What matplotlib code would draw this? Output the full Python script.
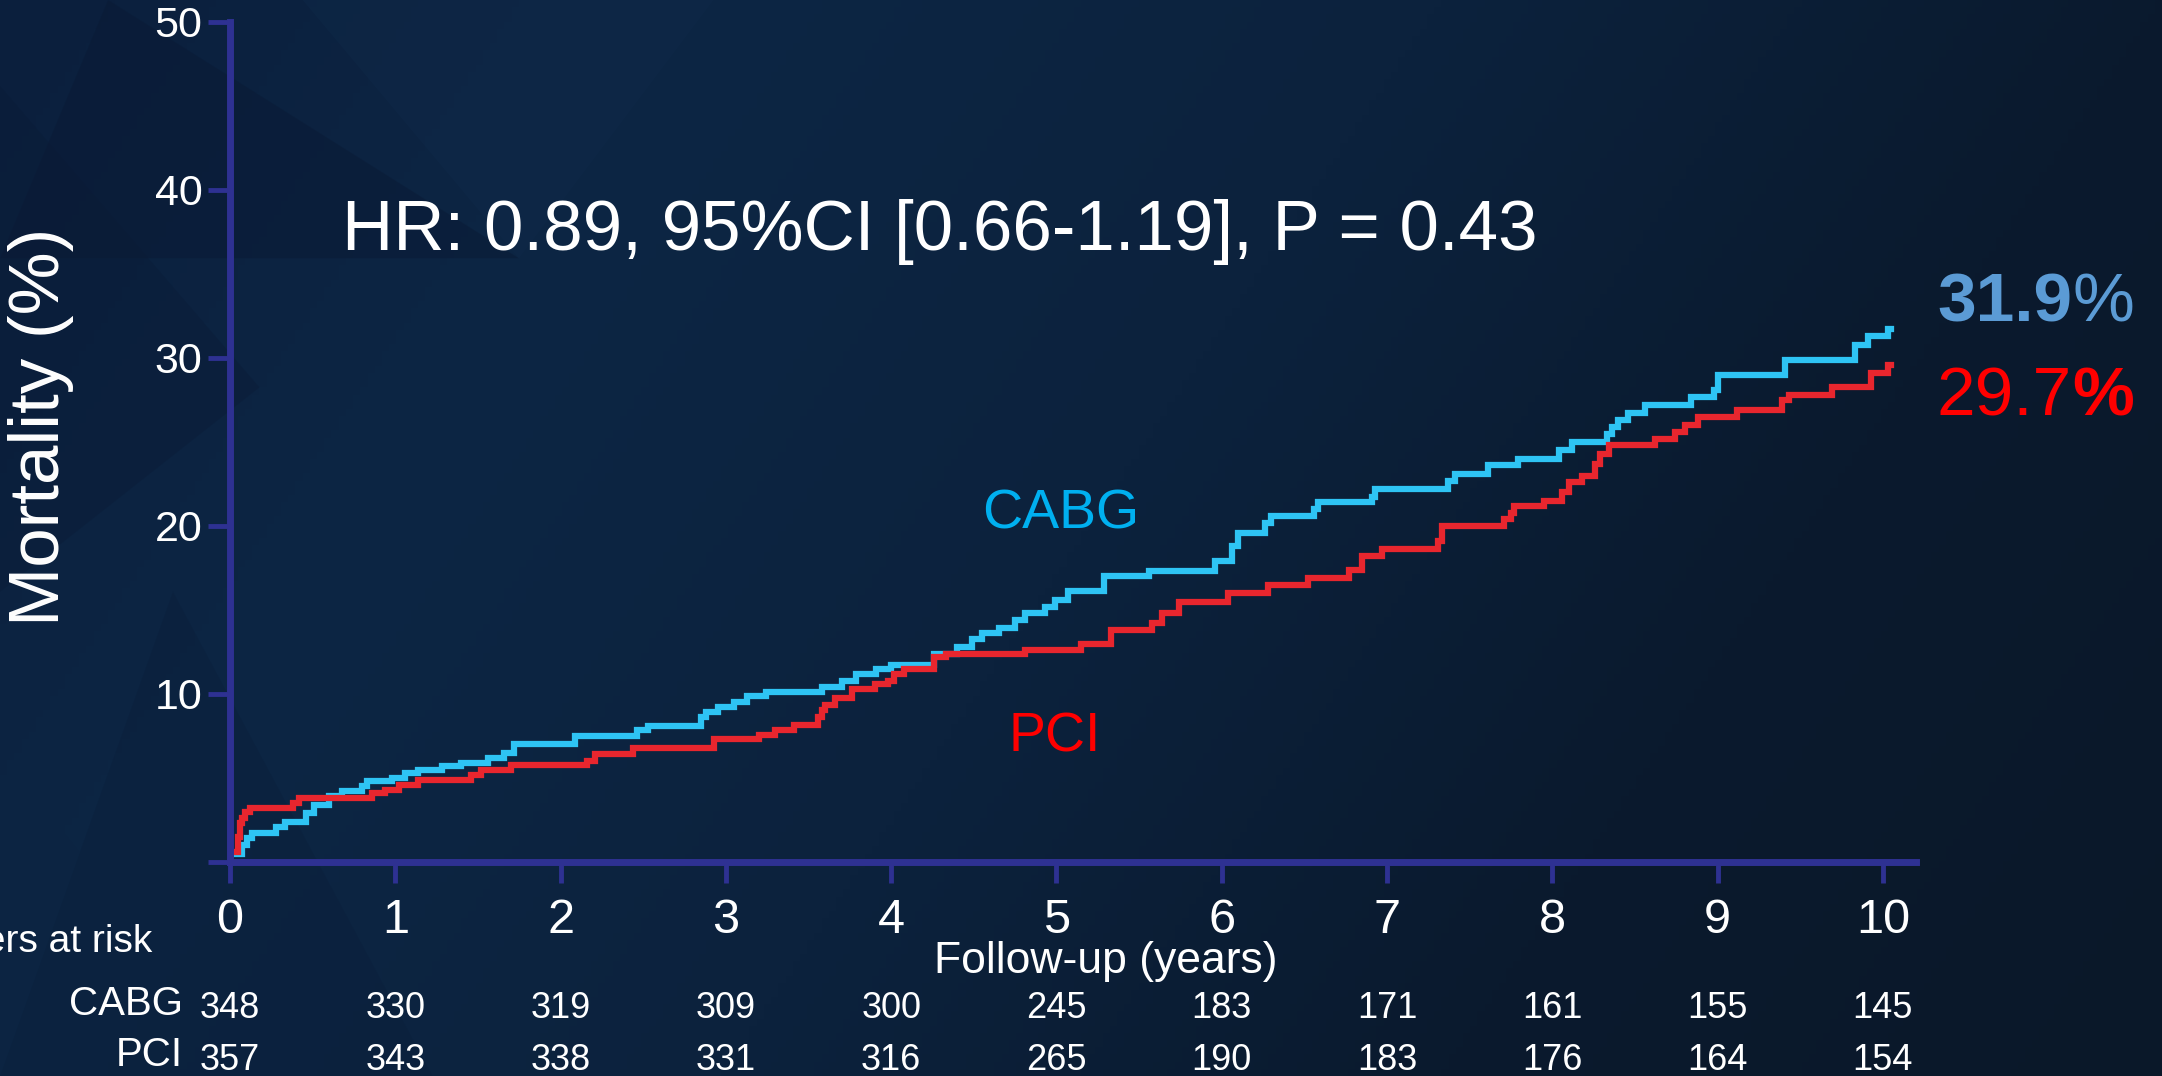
import numpy as np
import matplotlib.pyplot as plt
from matplotlib.colors import LinearSegmentedColormap
from matplotlib.patches import Polygon

# Kaplan-Meier steps (years, mortality %)
cabg_t = [0.03, 0.07, 0.10, 0.13, 0.28, 0.33, 0.46, 0.51, 0.60, 0.68, 0.80, 0.83, 0.98,
          1.06, 1.14, 1.28, 1.40, 1.56, 1.66, 1.72, 2.09, 2.46, 2.53, 2.85, 2.88, 2.95,
          3.05, 3.13, 3.24, 3.58, 3.70, 3.79, 3.91, 4.00, 4.26, 4.40, 4.49, 4.55, 4.65,
          4.75, 4.81, 4.93, 4.99, 5.07, 5.29, 5.56, 5.96, 6.06, 6.10, 6.26, 6.30, 6.56,
          6.58, 6.91, 6.93, 7.37, 7.41, 7.61, 7.79, 8.04, 8.12, 8.33, 8.36, 8.40, 8.46,
          8.56, 8.84, 8.98, 9.00, 9.41, 9.83, 9.91, 10.03, 10.05]
cabg_v = [0.5, 1.0, 1.4, 1.7, 2.1, 2.4, 2.9, 3.4, 3.9, 4.2, 4.5, 4.8, 5.0,
          5.3, 5.5, 5.7, 5.9, 6.2, 6.5, 7.0, 7.5, 7.85, 8.1, 8.6, 8.95, 9.2,
          9.5, 9.85, 10.1, 10.4, 10.8, 11.2, 11.5, 11.75, 12.4, 12.8, 13.3, 13.6, 13.9,
          14.4, 14.8, 15.2, 15.6, 16.1, 17.0, 17.3, 17.9, 18.8, 19.6, 20.2, 20.6, 21.0,
          21.4, 21.7, 22.2, 22.7, 23.1, 23.6, 24.0, 24.5, 25.0, 25.5, 25.9, 26.3, 26.7,
          27.2, 27.7, 28.1, 29.0, 29.9, 30.8, 31.3, 31.7, 31.7]

pci_t = [0.04, 0.05, 0.06, 0.07, 0.09, 0.12, 0.38, 0.42, 0.86, 0.94, 1.02, 1.14, 1.46,
         1.52, 1.70, 2.16, 2.21, 2.44, 2.93, 3.20, 3.30, 3.41, 3.56, 3.58, 3.60, 3.66,
         3.76, 3.90, 3.98, 4.02, 4.08, 4.26, 4.33, 4.81, 5.15, 5.33, 5.58, 5.64, 5.74,
         6.04, 6.28, 6.52, 6.77, 6.85, 6.97, 7.31, 7.33, 7.71, 7.75, 7.77, 7.95, 8.06,
         8.10, 8.18, 8.26, 8.29, 8.34, 8.62, 8.74, 8.80, 8.88, 9.12, 9.39, 9.43, 9.69,
         9.93, 10.03, 10.05]
pci_v = [0.6, 1.5, 2.3, 2.6, 3.0, 3.2, 3.5, 3.8, 4.1, 4.3, 4.6, 4.9, 5.2,
         5.5, 5.75, 6.0, 6.4, 6.8, 7.3, 7.55, 7.85, 8.15, 8.6, 9.05, 9.35, 9.75,
         10.3, 10.6, 10.8, 11.2, 11.5, 12.2, 12.4, 12.6, 13.0, 13.8, 14.2, 14.8, 15.5,
         16.0, 16.5, 16.9, 17.4, 18.2, 18.6, 19.1, 20.0, 20.4, 20.8, 21.2, 21.5, 22.0,
         22.6, 23.0, 23.7, 24.3, 24.8, 25.2, 25.6, 26.0, 26.5, 26.9, 27.5, 27.8, 28.3,
         29.1, 29.6, 29.6]

years = list(range(11))
yticks = [10, 20, 30, 40, 50]
risk_cabg = [348, 330, 319, 309, 300, 245, 183, 171, 161, 155, 145]
risk_pci = [357, 343, 338, 331, 316, 265, 190, 183, 176, 164, 154]

axis_col = '#2e3192'
cabg_col = '#2ec4f4'
pci_col = '#e8262e'
plt.rcParams['font.family'] = ['Liberation Sans', 'DejaVu Sans']

fig = plt.figure(figsize=(21.62, 10.76), dpi=100)

# dark navy slide background
bg = fig.add_axes([0, 0, 1, 1], zorder=-2)
cmap = LinearSegmentedColormap.from_list('bg', ['#0b1f3d', '#0d2644', '#0c223d', '#0a1a2e', '#0a1829'])
gx = np.linspace(0, 1, 300)
gy = np.linspace(0, 1, 150)
X, Y = np.meshgrid(gx, gy)
bg.imshow(0.75 * X + 0.25 * Y, cmap=cmap, extent=[0, 1, 0, 1], aspect='auto', origin='upper')
for pts, c, a in [([(0.05, 1), (0.24, 0.76), (0.0, 0.76)], '#0a1a35', 0.5),
                  ([(0.14, 1), (0.33, 1), (0.24, 0.76)], '#0f2a4a', 0.4),
                  ([(0.0, 0.92), (0.12, 0.64), (0.0, 0.45)], '#0a1b36', 0.4),
                  ([(0.08, 0.45), (0.2, 0.0), (0.0, 0.0)], '#0b1e3a', 0.4),
                  ([(0.0, 0.3), (0.08, 0.1), (0.0, 0.0)], '#0c2442', 0.3)]:
    bg.add_patch(Polygon(pts, closed=True, color=c, alpha=a, lw=0))
bg.set_xlim(0, 1)
bg.set_ylim(0, 1)
bg.axis('off')

ax = fig.add_axes([0.1064, 0.1989, 0.7798, 0.7807])
ax.set_facecolor('none')

ax.plot(cabg_t, cabg_v, drawstyle='steps-post', color=cabg_col, lw=4.5, solid_joinstyle='miter')
ax.plot(pci_t, pci_v, drawstyle='steps-post', color=pci_col, lw=4.5, solid_joinstyle='miter')

ax.set_xlim(0, 10.2)
ax.set_ylim(0, 50)
for s in ['top', 'right']:
    ax.spines[s].set_visible(False)
for s in ['left', 'bottom']:
    ax.spines[s].set_color(axis_col)
    ax.spines[s].set_linewidth(5)

ax.set_xticks(years)
ax.set_xticklabels([str(y) for y in years], fontsize=35, color='white')
ax.set_yticks([0] + yticks)
ax.set_yticklabels([''] + [str(v) for v in yticks], fontsize=31, color='white')
ax.tick_params(axis='x', length=15, width=3.5, color=axis_col, pad=11)
ax.tick_params(axis='y', length=16, width=3.5, color=axis_col, pad=4)

ax.text(5.3, -5.9, 'Follow-up (years)', fontsize=32, color='white',
        ha='center', va='center')

ax.text(0.68, 37.5, 'HR: 0.89, 95%CI [0.66-1.19], P = 0.43', fontsize=51, color='white',
        ha='left', va='center')
ax.text(4.55, 20.7, 'CABG', fontsize=40, color='#00b0f0', ha='left', va='center')
ax.text(4.99, 7.4, 'PCI', fontsize=40, color='#ff0000', ha='center', va='center')

# numbers at risk
for x, c, p in zip(years, risk_cabg, risk_pci):
    ax.text(x, -8.7, str(c), fontsize=26, color='white', ha='center', va='center')
    ax.text(x, -11.8, str(p), fontsize=26, color='white', ha='center', va='center')
fig.text(152 / 2162, 1 - 942 / 1076, 'Numbers at risk', fontsize=28,
         color='white', ha='right', va='center')
fig.text(183 / 2162, 1 - 1004 / 1076, 'CABG', fontsize=29,
         color='white', ha='right', va='center')
fig.text(183 / 2162, 1 - 1055 / 1076, 'PCI', fontsize=29,
         color='white', ha='right', va='center')

fig.text(0.019, 0.603, 'Mortality (%)', fontsize=51, color='white', rotation=90,
         ha='center', va='center')

# end-of-follow-up percentages
t1 = fig.text(1937 / 2162, 1 - 336 / 1076, '31.9', fontsize=50, fontweight='bold',
              color='#5b9bd5', ha='left', va='bottom')
ax.annotate('%', xy=(1, 0), xycoords=t1, fontsize=50, color='#5b9bd5', ha='left', va='bottom',
            annotation_clip=False)
t2 = fig.text(1937 / 2162, 1 - 429 / 1076, '29.7', fontsize=50, color='#ff0000',
              ha='left', va='bottom')
ax.annotate('%', xy=(1, 0), xycoords=t2, fontsize=50, fontweight='bold', color='#ff0000',
            ha='left', va='bottom', annotation_clip=False)

fig.savefig('out.png', dpi=100)
